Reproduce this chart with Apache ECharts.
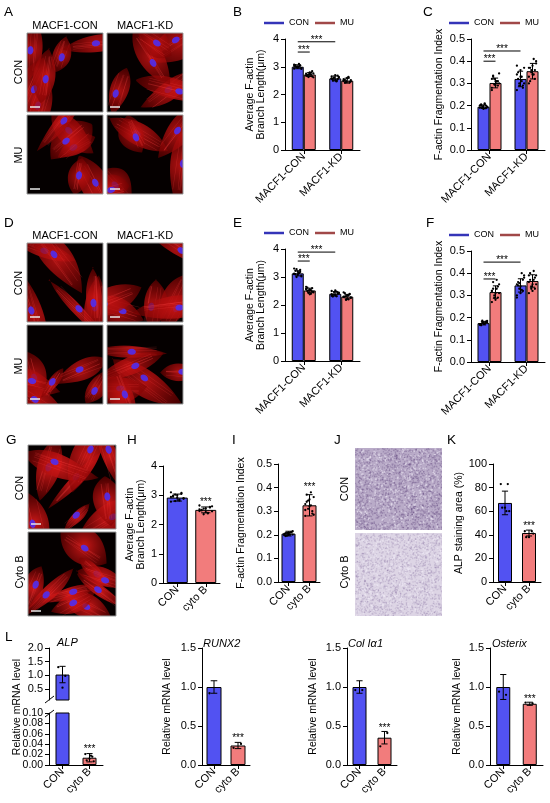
<!DOCTYPE html>
<html><head><meta charset="utf-8">
<script src="https://cdn.jsdelivr.net/npm/echarts@6/dist/echarts.min.js"></script>
<style>html,body{margin:0;padding:0;background:#fff}#c{width:550px;height:803px}</style>
</head><body><div id="c"></div>
<script>
const FONT = '"Liberation Sans", Arial, sans-serif';
const BLUE = '#5252F2', RED = '#F27C7C';

// ---------- data ----------
const macfGroups = ['MACF1-CON', 'MACF1-KD'];
const cytoGroups = ['CON', 'cyto B'];
const legendNames = ['CON', 'MU'];

// B
const B_con = [3.00, 2.58], B_mu = [2.72, 2.50];
const B_conSD = [0.07, 0.09], B_muSD = [0.07, 0.09];
const B_conPts = [[3.08,3.05,2.98,3.02,2.95,3.10,3.00,2.93,3.04,2.97,3.06,2.92,3.01,2.99,3.03],
                  [2.65,2.55,2.70,2.50,2.60,2.47,2.62,2.58,2.68,2.52,2.56,2.63,2.49,2.60,2.57]];
const B_muPts  = [[2.75,2.65,2.80,2.70,2.62,2.78,2.72,2.68,2.84,2.74,2.66,2.76,2.71,2.63,2.69],
                  [2.55,2.45,2.60,2.42,2.52,2.63,2.48,2.50,2.43,2.58,2.53,2.47,2.61,2.44,2.50]];
const B_sig = [[0,0,0,1,3.53],[0,0,1,0,3.90]];

// C
const C_con = [0.195, 0.320], C_mu = [0.302, 0.355];
const C_conSD = [0.008, 0.035], C_muSD = [0.022, 0.035];
const C_conPts = [[0.190,0.200,0.185,0.205,0.195,0.210,0.190,0.200,0.188,0.198,0.202,0.192,0.207,0.196,0.200],
                  [0.270,0.290,0.330,0.350,0.370,0.310,0.300,0.340,0.280,0.360,0.320,0.300,0.330,0.290,0.380]];
const C_muPts  = [[0.270,0.290,0.310,0.330,0.345,0.300,0.320,0.280,0.310,0.290,0.335,0.300,0.310,0.295,0.320],
                  [0.300,0.320,0.340,0.370,0.390,0.410,0.350,0.330,0.360,0.380,0.310,0.400,0.340,0.360,0.370]];
const C_sig = [[0,0,0,1,0.400],[0,0,1,0,0.446]];

// E
const E_con = [3.13, 2.40], E_mu = [2.52, 2.30];
const E_conSD = [0.09, 0.08], E_muSD = [0.08, 0.08];
const E_conPts = [[3.30,3.25,3.20,3.10,3.05,3.15,3.00,3.12,3.18,3.08,3.22,3.02,3.14,3.28,3.10],
                  [2.50,2.45,2.35,2.30,2.42,2.48,2.38,2.33,2.40,2.52,2.36,2.44,2.31,2.46,2.39]];
const E_muPts  = [[2.65,2.60,2.55,2.50,2.45,2.40,2.52,2.58,2.48,2.38,2.62,2.47,2.53,2.43,2.56],
                  [2.45,2.40,2.35,2.30,2.25,2.20,2.32,2.28,2.38,2.22,2.42,2.27,2.34,2.18,2.30]];
const E_sig = [[0,0,0,1,3.57],[0,0,1,0,3.89]];

// F
const F_con = [0.175, 0.345], F_mu = [0.315, 0.365];
const F_conSD = [0.008, 0.030], F_muSD = [0.028, 0.028];
const F_conPts = [[0.170,0.180,0.175,0.165,0.185,0.172,0.178,0.168,0.182,0.176,0.171,0.179,0.174,0.186,0.169],
                  [0.300,0.320,0.340,0.360,0.380,0.400,0.330,0.350,0.370,0.310,0.345,0.390,0.325,0.355,0.290]];
const F_muPts  = [[0.270,0.290,0.310,0.330,0.350,0.370,0.300,0.320,0.340,0.280,0.360,0.310,0.330,0.290,0.320],
                  [0.310,0.330,0.350,0.370,0.390,0.410,0.340,0.360,0.380,0.320,0.400,0.350,0.370,0.330,0.390]];
const F_sig = [[0,0,0,1,0.374],[0,0,1,0,0.450]];

// H
const H_vals = [2.92, 2.50], H_sd = [0.12, 0.10];
const H_pts = [[3.10,3.05,3.00,2.95,2.90,2.85,2.80,2.78,3.08,2.92,2.98,2.88,2.82,3.02,2.94],
               [2.65,2.60,2.55,2.50,2.45,2.40,2.35,2.52,2.58,2.42,2.48,2.62,2.38,2.54,2.46]];
const H_star = [[1, 2.86]];

// I
const I_vals = [0.205, 0.325], I_sd = [0.010, 0.045];
const I_pts = [[0.200,0.210,0.205,0.195,0.215,0.200,0.208,0.198,0.212,0.203,0.207,0.201,0.209,0.197,0.204],
               [0.280,0.300,0.320,0.340,0.360,0.380,0.310,0.330,0.290,0.350,0.370,0.285,0.325,0.345,0.305]];
const I_star = [[1, 0.41]];

// K
const K_vals = [67, 41.5], K_sd = [10, 2.5];
const K_pts = [[83, 83, 63, 63, 60, 60], [43, 43, 38, 38, 41]];
const K_star = [[1, 49]];

// L
const ALP_vals = [1.03, 0.014], ALP_sd = [0.30, 0.008];
const ALP_pts = [[1.30, 0.98, 0.55], [0.021, 0.016, 0.012, 0.009, 0.007, 0.018]];
const ALP_star = [[1, 0.036]];
const ALP_breakLow = 0.10, ALP_breakHigh = 0.10;
const ALP_topTicks = [0.5, 1.0, 1.5, 2.0];
const ALP_lowTicks = [0.00, 0.02, 0.04, 0.06, 0.08, 0.10];

const RUNX2_vals = [1.00, 0.25], RUNX2_sd = [0.08, 0.04];
const RUNX2_pts = [[0.92], [0.22, 0.27]];
const RUNX2_star = [[1, 0.38]];

const COL_vals = [1.00, 0.35], COL_sd = [0.08, 0.08];
const COL_pts = [[0.96, 0.96], [0.24, 0.41]];
const COL_star = [[1, 0.50]];

const OSX_vals = [1.00, 0.785], OSX_sd = [0.16, 0.02];
const OSX_pts = [[0.94, 0.90], [0.80, 0.79]];
const OSX_star = [[1, 0.88]];

// ---------- builders ----------
const grids = [], xAxes = [], yAxes = [], series = [], legends = [], graphics = [];

function yAxisCfg(gi, p) {
  const y = {gridIndex: gi, type: 'value', min: p.min, max: p.max, position: 'left',
    axisLine: {show: true, lineStyle: {color: '#000', width: 1}},
    axisTick: {show: true, length: 4, lineStyle: {color: '#000'}},
    axisLabel: {show: p.labels !== false, fontSize: p.tickFont || 11, color: '#000', fontFamily: FONT, margin: 6,
      hideOverlap: false, showMinLabel: true, showMaxLabel: true,
      formatter: v => Number(v).toFixed(p.dec)},
    splitLine: {show: false},
    name: p.name || '', nameLocation: 'middle', nameRotate: 90, nameGap: p.gap || 20,
    nameTextStyle: {fontSize: 10.5, color: '#000', fontFamily: FONT, lineHeight: 11.5}};
  if (p.interval != null) y.interval = p.interval;
  if (p.custom) { y.axisLabel.customValues = p.custom; y.axisTick.customValues = p.custom; }
  return y;
}

function addPanel(rect, cats, p) {
  const gi = grids.length;
  grids.push({left: rect[0], top: rect[1], width: rect[2], height: rect[3]});
  const showX = p.showX !== false;
  xAxes.push({gridIndex: gi, type: 'category', data: cats, show: showX,
    axisLine: {show: true, lineStyle: {color: '#000', width: 1}},
    axisTick: {show: true, alignWithLabel: true, length: 4, lineStyle: {color: '#000'}},
    axisLabel: {rotate: 45, interval: 0, fontSize: 11, color: '#000', fontFamily: FONT, margin: 5},
    splitLine: {show: false}});
  yAxes.push(yAxisCfg(gi, p));
  return gi;
}

function errRender(bw, n) {
  return function (params, api) {
    const cat = api.value(0), m = api.value(1), sd = api.value(2), slot = api.value(3) || 0;
    const off = (slot - (n - 1) / 2) * bw;
    const t = api.coord([cat, m + sd]), b = api.coord([cat, m - sd]);
    const x = t[0] + off, cw = bw * 0.22;
    const st = {stroke: '#000', lineWidth: 1};
    return {type: 'group', children: [
      {type: 'line', shape: {x1: x, y1: t[1], x2: x, y2: b[1]}, style: st},
      {type: 'line', shape: {x1: x - cw, y1: t[1], x2: x + cw, y2: t[1]}, style: st},
      {type: 'line', shape: {x1: x - cw, y1: b[1], x2: x + cw, y2: b[1]}, style: st}
    ]};
  };
}
function ptsRender(bw, n) {
  return function (params, api) {
    const cat = api.value(0), v = api.value(1), slot = api.value(2) || 0, idx = api.value(3);
    const off = (slot - (n - 1) / 2) * bw;
    const j = (((idx * 5) % 7) - 3) / 3 * bw * 0.3;
    const p = api.coord([cat, v]);
    return {type: 'circle', shape: {cx: p[0] + off + j, cy: p[1], r: 1.15}, style: {fill: '#000'}};
  };
}
function sigRender(bw, n) {
  return function (params, api) {
    const pA = api.coord([api.value(0), api.value(4)]), pB = api.coord([api.value(2), api.value(4)]);
    const xA = pA[0] + (api.value(1) - (n - 1) / 2) * bw, xB = pB[0] + (api.value(3) - (n - 1) / 2) * bw;
    return {type: 'group', children: [
      {type: 'line', shape: {x1: xA, y1: pA[1], x2: xB, y2: pA[1]}, style: {stroke: '#000', lineWidth: 1}},
      {type: 'text', style: {text: '***', x: (xA + xB) / 2, y: pA[1] - 1.5, fill: '#000', fontSize: 10, fontFamily: FONT,
        align: 'center', textAlign: 'center', verticalAlign: 'middle', textVerticalAlign: 'middle'}}
    ]};
  };
}
function starRender(params, api) {
  const p = api.coord([api.value(0), api.value(1)]);
  return {type: 'text', style: {text: '***', x: p[0], y: p[1] + 2.5, fill: '#000', fontSize: 10, fontFamily: FONT,
    align: 'center', textAlign: 'center', verticalAlign: 'middle', textVerticalAlign: 'middle'}};
}
function tickLabelRender(dec, size) {
  return function (params, api) {
    const p = api.coord([0, api.value(1)]);
    const x0 = params.coordSys.x;
    return {type: 'text', style: {text: Number(api.value(1)).toFixed(dec), x: x0 - 6, y: p[1], fill: '#000', fontSize: size, fontFamily: FONT,
      align: 'right', textAlign: 'right', verticalAlign: 'middle', textVerticalAlign: 'middle'}};
  };
}

function addGrouped(rect, p) {
  const gi = addPanel(rect, macfGroups, p);
  const bw = 12;
  series.push({type: 'bar', name: legendNames[0], xAxisIndex: gi, yAxisIndex: gi, data: p.con, barWidth: bw, barGap: '0%',
    itemStyle: {color: BLUE, borderColor: '#000', borderWidth: 1}, z: 2});
  series.push({type: 'bar', name: legendNames[1], xAxisIndex: gi, yAxisIndex: gi, data: p.mu, barWidth: bw, barGap: '0%',
    itemStyle: {color: RED, borderColor: '#000', borderWidth: 1}, z: 2});
  const err = [], pts = [];
  p.con.forEach((m, i) => err.push([i, m, p.conSD[i], 0]));
  p.mu.forEach((m, i) => err.push([i, m, p.muSD[i], 1]));
  p.conPts.forEach((a, i) => a.forEach((v, j) => pts.push([i, v, 0, j])));
  p.muPts.forEach((a, i) => a.forEach((v, j) => pts.push([i, v, 1, j])));
  series.push({type: 'custom', name: 'pts' + gi, xAxisIndex: gi, yAxisIndex: gi, data: pts, renderItem: ptsRender(bw, 2), z: 3});
  series.push({type: 'custom', name: 'err' + gi, xAxisIndex: gi, yAxisIndex: gi, data: err, renderItem: errRender(bw, 2), z: 4});
  series.push({type: 'custom', name: 'sig' + gi, xAxisIndex: gi, yAxisIndex: gi, data: p.sig, renderItem: sigRender(bw, 2), z: 4});
}

function addPair(rect, p, vals, sd, ptsArr, stars, bw, filter) {
  const gi = addPanel(rect, cytoGroups, p);
  const keep = filter || (() => true);
  const cols = [BLUE, RED];
  series.push({type: 'bar', name: 'bars' + gi, xAxisIndex: gi, yAxisIndex: gi, barWidth: bw,
    data: vals.map((v, i) => (p.barKeep ? p.barKeep(v) : true) ? {value: v, itemStyle: {color: cols[i]}} : '-'),
    itemStyle: {borderColor: '#000', borderWidth: 1}, z: 2});
  const err = [], pts = [];
  vals.forEach((m, i) => { if (keep(m)) err.push([i, m, sd[i], 0]); });
  ptsArr.forEach((a, i) => a.forEach((v, j) => { if (keep(v)) pts.push([i, v, 0, j]); }));
  series.push({type: 'custom', name: 'pts' + gi, xAxisIndex: gi, yAxisIndex: gi, data: pts, renderItem: ptsRender(bw, 1), z: 3});
  series.push({type: 'custom', name: 'err' + gi, xAxisIndex: gi, yAxisIndex: gi, data: err, renderItem: errRender(bw, 1), z: 4});
  if (stars) series.push({type: 'custom', name: 'star' + gi, xAxisIndex: gi, yAxisIndex: gi, data: stars, renderItem: starRender, z: 4});
  return gi;
}

// ---------- panels ----------
const nm2 = 'Average F-actin\nBranch Length(μm)';
const nmFrag = 'F-actin Fragmentation Index';
addGrouped([285, 39, 75, 111], {min: 0, max: 4, interval: 1, dec: 0, name: nm2, gap: 18,
  con: B_con, mu: B_mu, conSD: B_conSD, muSD: B_muSD, conPts: B_conPts, muPts: B_muPts, sig: B_sig});
addGrouped([471, 39, 74, 111], {min: 0, max: 0.5, interval: 0.1, dec: 1, name: nmFrag, gap: 26,
  con: C_con, mu: C_mu, conSD: C_conSD, muSD: C_muSD, conPts: C_conPts, muPts: C_muPts, sig: C_sig});
addGrouped([285, 249, 75, 112], {min: 0, max: 4, interval: 1, dec: 0, name: nm2, gap: 18,
  con: E_con, mu: E_mu, conSD: E_conSD, muSD: E_muSD, conPts: E_conPts, muPts: E_muPts, sig: E_sig});
addGrouped([471, 251, 74, 111], {min: 0, max: 0.5, interval: 0.1, dec: 1, name: nmFrag, gap: 26,
  con: F_con, mu: F_mu, conSD: F_conSD, muSD: F_muSD, conPts: F_conPts, muPts: F_muPts, sig: F_sig});

addPair([163, 466, 57, 117], {min: 0, max: 4, interval: 1, dec: 0, name: nm2, gap: 15}, H_vals, H_sd, H_pts, H_star, 21);
addPair([278, 464, 42, 118], {min: 0, max: 0.5, interval: 0.1, dec: 1, name: nmFrag, gap: 31}, I_vals, I_sd, I_pts, I_star, 14);
addPair([493, 464, 48, 118], {min: 0, max: 100, interval: 20, dec: 0, name: 'ALP staining area (%)', gap: 28}, K_vals, K_sd, K_pts, K_star, 14);

// ALP broken axis: upper and lower segments
addPair([49, 648, 54, 52], {min: ALP_breakHigh, max: 2.0, dec: 1, custom: ALP_topTicks, showX: false,
  barKeep: v => v > ALP_breakHigh}, ALP_vals, ALP_sd, ALP_pts, null, 14, v => v > ALP_breakHigh);
const giLow = addPair([49, 713, 54, 52], {min: 0, max: ALP_breakLow, dec: 2, custom: ALP_lowTicks, labels: false},
  ALP_vals, ALP_sd, ALP_pts, ALP_star, 14, v => v <= ALP_breakLow);
// densely spaced tick labels of the lower segment, placed by the axis scale
series.push({type: 'custom', name: 'lowTickLabels', xAxisIndex: giLow, yAxisIndex: giLow,
  data: ALP_lowTicks.map(v => [0, v]), renderItem: tickLabelRender(2, 10.5), z: 5});

addPair([202, 648, 48, 117], {min: 0, max: 1.5, interval: 0.5, dec: 1, name: 'Relative mRNA level', gap: 29}, RUNX2_vals, RUNX2_sd, RUNX2_pts, RUNX2_star, 15);
addPair([347, 648, 50, 117], {min: 0, max: 1.5, interval: 0.5, dec: 1, name: 'Relative mRNA level', gap: 28}, COL_vals, COL_sd, COL_pts, COL_star, 14);
addPair([490, 648, 53, 117], {min: 0, max: 1.5, interval: 0.5, dec: 1, name: 'Relative mRNA level', gap: 27}, OSX_vals, OSX_sd, OSX_pts, OSX_star, 14);

// legends
function addLegend(left, top) {
  legends.push({left, top, padding: 0, itemWidth: 20, itemHeight: 2.5, itemGap: 6, icon: 'rect', selectedMode: false,
    itemStyle: {borderWidth: 0},
    data: [{name: legendNames[0], itemStyle: {color: '#3434b8', borderWidth: 0}}, {name: legendNames[1], itemStyle: {color: '#a04848', borderWidth: 0}}],
    textStyle: {fontSize: 9, color: '#000', fontFamily: FONT}});
}
addLegend(264, 18.5);
addLegend(449, 18.5);
addLegend(264, 228.5);
addLegend(449, 230.5);

// ---------- decorations (images, labels) ----------
const h01 = n => { const x = Math.sin(n * 12.9898 + 78.233) * 43758.5453; return x - Math.floor(x); };
function fluoCanvas(w, h, seed, bright) {
  const s = 2, c = document.createElement('canvas');
  c.width = w * s; c.height = h * s;
  const g = c.getContext('2d'); g.scale(s, s);
  g.fillStyle = '#050000'; g.fillRect(0, 0, w, h);
  let k = seed * 97 + 1; const r = () => h01(k++);
  const n = bright ? 9 : 6;
  for (let i = 0; i < n; i++) {
    const cx = r() * w, cy = r() * h, a = r() * Math.PI, L = 18 + r() * 24, W = 6 + r() * 10;
    g.save(); g.translate(cx, cy); g.rotate(a);
    const grd = g.createRadialGradient(0, 0, 1, 0, 0, L);
    grd.addColorStop(0, bright ? 'rgba(215,25,25,0.9)' : 'rgba(200,20,20,0.85)');
    grd.addColorStop(1, 'rgba(120,0,0,0.55)');
    g.fillStyle = grd;
    g.beginPath();
    g.moveTo(-L, (r() - 0.5) * 4);
    g.bezierCurveTo(-L * 0.4, -W * (1 + r()), L * 0.4, -W * (0.6 + r()), L, (r() - 0.5) * 6);
    g.bezierCurveTo(L * 0.5, W * (0.6 + r()), -L * 0.5, W * (1 + r()), -L, 0);
    g.fill();
    g.strokeStyle = 'rgba(255,70,70,0.35)'; g.lineWidth = 0.4;
    for (let j = 0; j < 5; j++) { const yy = (r() - 0.5) * W; g.beginPath(); g.moveTo(-L * 0.7, yy); g.lineTo(L * 0.7, yy + (r() - 0.5) * 5); g.stroke(); }
    g.fillStyle = 'rgba(80,45,240,0.9)';
    g.beginPath(); g.ellipse((r() - 0.5) * L * 0.4, (r() - 0.5) * W * 0.4, 4.2, 3, 0, 0, Math.PI * 2); g.fill();
    g.restore();
  }
  return c;
}
function tissueCanvas(w, h, seed, dark) {
  const s = 2, c = document.createElement('canvas');
  c.width = w * s; c.height = h * s;
  const g = c.getContext('2d'); g.scale(s, s);
  g.fillStyle = dark ? '#b9abc8' : '#ddd5e5'; g.fillRect(0, 0, w, h);
  let k = seed * 131 + 7; const r = () => h01(k++);
  for (let i = 0; i < 1800; i++) {
    g.fillStyle = dark ? 'rgba(95,70,125,0.3)' : 'rgba(120,95,150,0.2)';
    g.fillRect(r() * w, r() * h, 1.3, 1.3);
  }
  for (let i = 0; i < 500; i++) {
    g.fillStyle = 'rgba(245,240,250,0.45)';
    g.fillRect(r() * w, r() * h, 1.5, 1.5);
  }
  return c;
}
const fluoImgs = [[27,33,76,79],[107,33,76,79],[27,115,76,79],[107,115,76,79],
                  [27,243,76,79],[107,243,76,79],[27,325,76,79],[107,325,76,79],
                  [28,445,88,84],[28,532,88,84]];
fluoImgs.forEach((b, i) => {
  graphics.push({type: 'image', style: {image: fluoCanvas(b[2], b[3], i + 1, i >= 8), x: b[0], y: b[1], width: b[2], height: b[3]}, z: 1});
  graphics.push({type: 'rect', shape: {x: b[0], y: b[1], width: b[2], height: b[3]}, style: {fill: 'none', stroke: '#999', lineWidth: 1}, z: 2});
  graphics.push({type: 'line', shape: {x1: b[0] + 3, y1: b[1] + b[3] - 5, x2: b[0] + 13, y2: b[1] + b[3] - 5}, style: {stroke: '#e8e8e8', lineWidth: 1.5}, z: 3});
});
const tissueImgs = [[355,448,87,82,true],[355,533,87,83,false]];
tissueImgs.forEach((b, i) => {
  graphics.push({type: 'image', style: {image: tissueCanvas(b[2], b[3], i + 3, b[4]), x: b[0], y: b[1], width: b[2], height: b[3]}, z: 1});
});

function gText(text, x, y, size, o) {
  o = o || {};
  graphics.push({type: 'text', x, y, rotation: o.rot || 0, z: 10,
    style: {text, x: 0, y: 0, fill: '#000', fontSize: size, fontFamily: FONT, fontStyle: o.italic ? 'italic' : 'normal',
      align: o.align || 'center', textAlign: o.align || 'center', verticalAlign: 'middle', textVerticalAlign: 'middle'}});
}
[['A',4,12],['B',233,12],['C',423,12],['D',4,223],['E',233,223],['F',426,223],
 ['G',6,440],['H',127,440],['I',232,440],['J',334,440],['K',447,440],['L',5,637]]
  .forEach(t => gText(t[0], t[1], t[2], 13.5, {align: 'left'}));

gText('MACF1-CON', 65, 26, 11); gText('MACF1-KD', 145, 26, 11);
gText('MACF1-CON', 65, 236, 11); gText('MACF1-KD', 145, 236, 11);
const R90 = Math.PI / 2;
gText('CON', 19, 72, 11, {rot: R90}); gText('MU', 19, 155, 11, {rot: R90});
gText('CON', 19, 283, 11, {rot: R90}); gText('MU', 19, 366, 11, {rot: R90});
gText('CON', 20, 488, 11, {rot: R90}); gText('Cyto B', 20, 572, 11, {rot: R90});
gText('CON', 345, 489, 11, {rot: R90}); gText('Cyto B', 345, 572, 11, {rot: R90});

gText('ALP', 57, 643, 11, {align: 'left', italic: true});
gText('RUNX2', 203, 644, 11, {align: 'left', italic: true});
gText('Col Iα1', 348, 644, 11, {align: 'left', italic: true});
gText('Osterix', 492, 644, 11, {align: 'left', italic: true});
gText('Relative mRNA level', 17, 707, 10.5, {rot: R90});

// axis break marks
graphics.push({type: 'line', shape: {x1: 45, y1: 703, x2: 54, y2: 696}, style: {stroke: '#000', lineWidth: 1}, z: 10});
graphics.push({type: 'line', shape: {x1: 45, y1: 717, x2: 54, y2: 710}, style: {stroke: '#000', lineWidth: 1}, z: 10});

const chart = echarts.init(document.getElementById('c'), null, {renderer: 'canvas'});
chart.setOption({
  animation: false,
  backgroundColor: '#fff',
  grid: grids, xAxis: xAxes, yAxis: yAxes, series: series, legend: legends,
  graphic: {elements: graphics}
});
</script>
</body></html>
